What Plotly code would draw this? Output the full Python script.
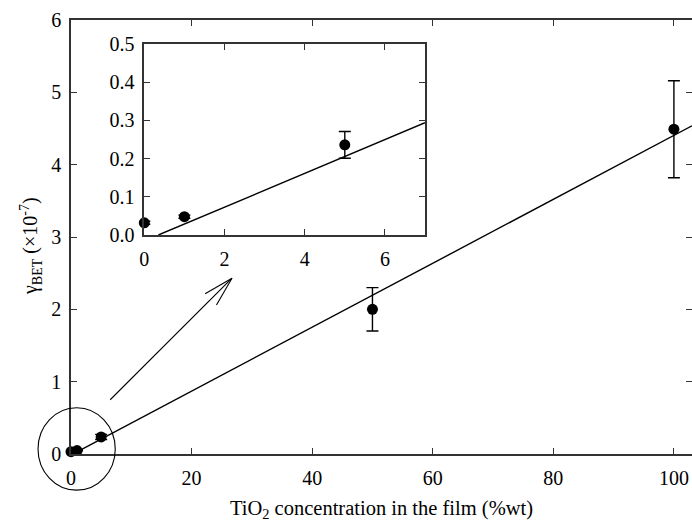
import math
import plotly.graph_objects as go

# Measured adsorption coefficient vs TiO2 loading
conc = [0, 1, 5, 50, 100]
gamma = [0.032, 0.048, 0.236, 2.0, 4.49]
gamma_err = [0.004, 0.004, 0.035, 0.30, 0.67]

# Linear fit: gamma = slope * conc + intercept
slope = 0.0442
intercept = -0.0155

# Inset shows the low-concentration points only
inset_n = 3

x_ticks_main = [0, 20, 40, 60, 80, 100]
y_ticks_main = [0, 1, 2, 3, 4, 5, 6]
x_ticks_inset = [0, 2, 4, 6]
y_ticks_inset = [0.0, 0.1, 0.2, 0.3, 0.4, 0.5]

W, H = 692, 526
L, R, T, B = 71, 0, 20, 72
PW, PH = W - L - R, H - T - B
X_RANGE = [0, 103]
Y_RANGE = [0, 6]
XI_RANGE = [0, 7]
YI_RANGE = [0, 0.5]

FONT = "'Liberation Serif', 'Times New Roman', 'DejaVu Serif', serif"
BLACK = "#000000"
AX = "#333333"


def px(xv):
    return (xv - X_RANGE[0]) / (X_RANGE[1] - X_RANGE[0])


def py(yv):
    return (yv - Y_RANGE[0]) / (Y_RANGE[1] - Y_RANGE[0])


fig = go.Figure()

# fit line on the main axes
fit_x = [1, X_RANGE[1]]
fig.add_trace(go.Scatter(
    x=fit_x, y=[slope * v + intercept for v in fit_x],
    mode="lines", line=dict(color=BLACK, width=1.4),
    xaxis="x", yaxis="y", showlegend=False, hoverinfo="skip"))

fig.add_trace(go.Scatter(
    x=conc, y=gamma, mode="markers",
    marker=dict(color=BLACK, size=11),
    error_y=dict(type="data", array=gamma_err, color=BLACK, thickness=1.4, width=6),
    xaxis="x", yaxis="y", showlegend=False, cliponaxis=False))

# carrier for the right-hand tick marks
fig.add_trace(go.Scatter(x=[None], y=[None], xaxis="x", yaxis="y3",
                         showlegend=False, hoverinfo="skip"))

# inset
x0_inset = -intercept / slope
fit_xi = [x0_inset, XI_RANGE[1]]
fig.add_trace(go.Scatter(
    x=fit_xi, y=[slope * v + intercept for v in fit_xi],
    mode="lines", line=dict(color=BLACK, width=1.4),
    xaxis="x2", yaxis="y2", showlegend=False, hoverinfo="skip"))

fig.add_trace(go.Scatter(
    x=conc[:inset_n], y=gamma[:inset_n], mode="markers",
    marker=dict(color=BLACK, size=11),
    error_y=dict(type="data", array=gamma_err[:inset_n], color=BLACK, thickness=1.4, width=6),
    xaxis="x2", yaxis="y2", showlegend=False, cliponaxis=False))

tick_font = dict(family=FONT, size=20, color=BLACK)

common = dict(showgrid=False, zeroline=False, showline=True, linecolor=AX,
              linewidth=1.5, ticks="inside", tickcolor=AX, tickwidth=1.2,
              tickfont=tick_font)

# inset placement in paper coordinates
ix0, ix1 = (144.3 - L) / PW, (425 - L) / PW
iy0, iy1 = (H - B - 235) / PH, (H - B - 44) / PH

fig.update_layout(
    width=W, height=H,
    margin=dict(l=L, r=R, t=T, b=B, pad=0),
    paper_bgcolor="white", plot_bgcolor="white",
    font=dict(family=FONT, color=BLACK),
    xaxis=dict(range=X_RANGE, tickvals=x_ticks_main, ticklen=6, mirror="ticks",
               domain=[0, 1], anchor="y", ticklabelstandoff=5, **common),
    yaxis=dict(range=Y_RANGE, tickvals=y_ticks_main, ticklen=6, mirror=False,
               domain=[0, 1], anchor="x", ticklabelstandoff=4, **common),
    yaxis3=dict(range=Y_RANGE, tickvals=y_ticks_main, overlaying="y", side="right",
                anchor="x", showgrid=False, zeroline=False, showline=False,
                ticks="inside", ticklen=6, tickcolor=AX, tickwidth=1.2,
                showticklabels=False),
    xaxis2=dict(range=XI_RANGE, tickvals=x_ticks_inset, ticklen=6, mirror="ticks",
                domain=[ix0, ix1], anchor="y2", ticklabelstandoff=5, **common),
    yaxis2=dict(range=YI_RANGE, tickvals=y_ticks_inset, ticklen=6, mirror="ticks",
                tickformat=".1f", domain=[iy0, iy1], anchor="x2",
                ticklabelstandoff=4, **common),
)

# ellipse around the low-concentration cluster
fig.add_shape(type="circle", xref="paper", yref="paper",
              x0=px(-5.47), x1=px(7.34), y0=py(-0.50), y1=py(0.64),
              line=dict(color=BLACK, width=1.1))

# arrow pointing to the inset
ax0, ay0 = 6.5, 0.75
ax1, ay1 = 26.7, 2.43
sx = lambda v: L + px(v) * PW
sy = lambda v: T + (1 - py(v)) * PH
tx, ty = sx(ax1), sy(ay1)
ang = math.atan2(sy(ay0) - ty, sx(ax0) - tx)
barb_len, barb_ang = 31, math.radians(15)
to_paper = lambda X, Y: ((X - L) / PW, 1 - (Y - T) / PH)
p_tail = to_paper(sx(ax0), sy(ay0))
p_tip = to_paper(tx, ty)
p_b1 = to_paper(tx + barb_len * math.cos(ang + barb_ang), ty + barb_len * math.sin(ang + barb_ang))
p_b2 = to_paper(tx + barb_len * math.cos(ang - barb_ang), ty + barb_len * math.sin(ang - barb_ang))
fig.add_shape(type="line", xref="paper", yref="paper",
              x0=p_tail[0], y0=p_tail[1], x1=p_tip[0], y1=p_tip[1],
              line=dict(color=BLACK, width=1.1))
for b in (p_b1, p_b2):
    fig.add_shape(type="line", xref="paper", yref="paper",
                  x0=b[0], y0=b[1], x1=p_tip[0], y1=p_tip[1],
                  line=dict(color=BLACK, width=1.1))

# axis titles
fig.add_annotation(text="TiO<sub>2</sub> concentration in the film (%wt)",
                   xref="paper", yref="paper", x=0.5, y=-(510 - (H - B)) / PH,
                   xanchor="center", yanchor="middle", showarrow=False,
                   font=dict(family=FONT, size=20.5, color=BLACK))
fig.add_annotation(text="γ<sub>BET</sub> (×10<sup>-7</sup>)",
                   xref="paper", yref="paper", x=(31 - L) / PW, y=(H - B - 246) / PH,
                   xanchor="center", yanchor="middle", textangle=-90, showarrow=False,
                   font=dict(family=FONT, size=20, color=BLACK))

fig.write_html("out.html")
